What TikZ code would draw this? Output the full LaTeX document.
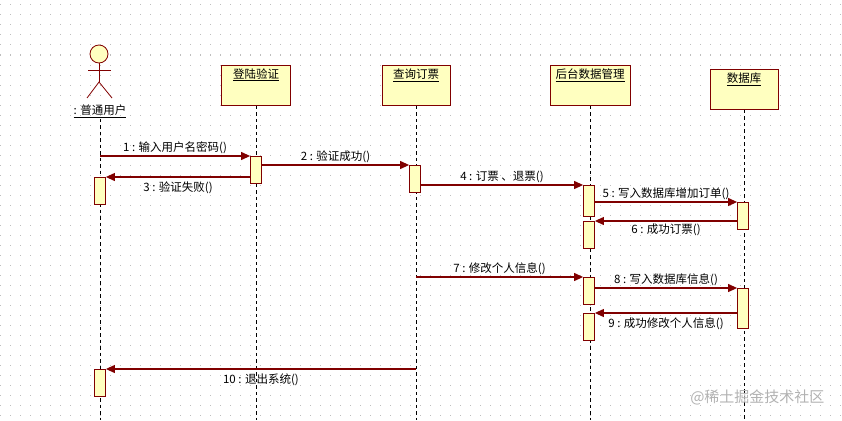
\documentclass[tikz,border=0pt]{standalone}
\usepackage{fontspec}
\setmainfont{Noto Sans CJK SC}
\usepackage{tikz}
\usetikzlibrary{arrows.meta,positioning,calc}
\usepackage{xcolor}
\definecolor{umlred}{RGB}{128,0,0}
\definecolor{umlyellow}{RGB}{255,255,192}
\definecolor{umldot}{RGB}{190,190,190}
\tikzstyle{object} = [draw=umlred, fill=umlyellow, thick, inner sep=3pt, text height=10pt, text depth=24pt, anchor=north, font=\fontsize{11.5}{13}\selectfont]
\tikzstyle{act} = [draw=umlred, fill=umlyellow, thick, minimum width=11pt, inner sep=0pt, anchor=north]
\tikzstyle{lifeline} = [black, line width=0.7pt, dash pattern=on 3.5pt off 3pt]
\tikzstyle{msg} = [line width=1.1pt, umlred, -{Triangle[length=9pt,width=8pt]}]
\tikzstyle{mlabel} = [font=\fontsize{11.5}{13}\selectfont, inner sep=2pt]

\begin{document}
\begin{tikzpicture}[x=1pt, y=-1pt]
\useasboundingbox (0,0) rectangle (842,420);
% dotted background
\foreach \y in {5,15,...,415}
  \draw[umldot, line width=1pt, dash pattern=on 1pt off 9pt] (0,\y) -- (842,\y);

% Actor
\node[draw=umlred, fill=umlyellow, thick, circle, minimum size=18pt, inner sep=0pt] (head) at (99,54) {};
\draw[umlred, thick] (head.south) -- (99,82) coordinate (hip);
\draw[umlred, thick] (88,70) -- (111,70);
\draw[umlred, thick] (87,98) -- (hip) -- (112,98);
\node[font=\fontsize{11.5}{13}\selectfont, inner sep=1pt] (user) at (100,111) {\underline{: 普通用户}};

% Objects
\node[object, minimum width=69pt] (login) at (256,65) {\underline{登陆验证}};
\node[object, minimum width=68pt] (query) at (416,65) {\underline{查询订票}};
\node[object, minimum width=80pt] (backend) at (590,65) {\underline{后台数据管理}};
\node[object, minimum width=68pt] (db) at (744,69) {\underline{数据库}};

% Lifelines
\draw[lifeline] (user.south) -- (100,420);
\draw[lifeline] (login.south) -- (256,420);
\draw[lifeline] (query.south) -- (416,420);
\draw[lifeline] (backend.south) -- (590,420);
\draw[lifeline] (db.south) -- (744,420);

% Activations
\node[act, minimum height=27pt] (login1) at (256,156) {};
\node[act, minimum height=27pt] (user1) at (100,177) {};
\node[act, minimum height=27pt] (query1) at (415,165) {};
\node[act, minimum height=31pt] (backend1) at (589,185) {};
\node[act, minimum height=27pt] (backend2) at (589,221) {};
\node[act, minimum height=27pt] (db1) at (743,202) {};
\node[act, minimum height=27pt] (backend3) at (589,277) {};
\node[act, minimum height=40pt] (db2) at (743,288) {};
\node[act, minimum height=27pt] (backend4) at (589,313) {};
\node[act, minimum height=27pt] (user2) at (100,369) {};

% Messages
\coordinate (m1) at (100,156);
\draw[msg] (m1) -- (login1.north west) node[midway, above, mlabel, black] {1 : 输入用户名密码()};
\draw[msg] (login1.east |- query1.north) -- (query1.north west) node[midway, above, mlabel, black] {2 : 验证成功()};
\draw[msg] (login1.west |- user1.north) -- (user1.north east) node[midway, below=2pt, mlabel, black] {3 : 验证失败()};
\draw[msg] (query1.east |- backend1.north) -- (backend1.north west) node[midway, above, mlabel, black] {4 : 订票 、退票()};
\draw[msg] (backend1.east |- db1.north) -- (db1.north west) node[midway, above, mlabel, black] {5 : 写入数据库增加订单()};
\draw[msg] (db1.west |- backend2.north) -- (backend2.north east) node[midway, below=0pt, mlabel, black] {6 : 成功订票()};
\draw[msg] (query.south |- backend3.north) -- (backend3.north west) node[midway, above, mlabel, black] {7 : 修改个人信息()};
\draw[msg] (backend3.east |- db2.north) -- (db2.north west) node[midway, above, mlabel, black] {8 : 写入数据库信息()};
\draw[msg] (db2.west |- backend4.north) -- (backend4.north east) node[midway, below=2pt, mlabel, black] {9 : 成功修改个人信息()};
\draw[msg] (query.south |- user2.north) -- (user2.north east) node[midway, below=2pt, mlabel, black] {10 : 退出系统()};

% Watermark
\node[font=\fontsize{15}{17}\selectfont, text=black!30, anchor=east] (mark) at (828,397) {@稀土掘金技术社区};
\end{tikzpicture}
\end{document}
